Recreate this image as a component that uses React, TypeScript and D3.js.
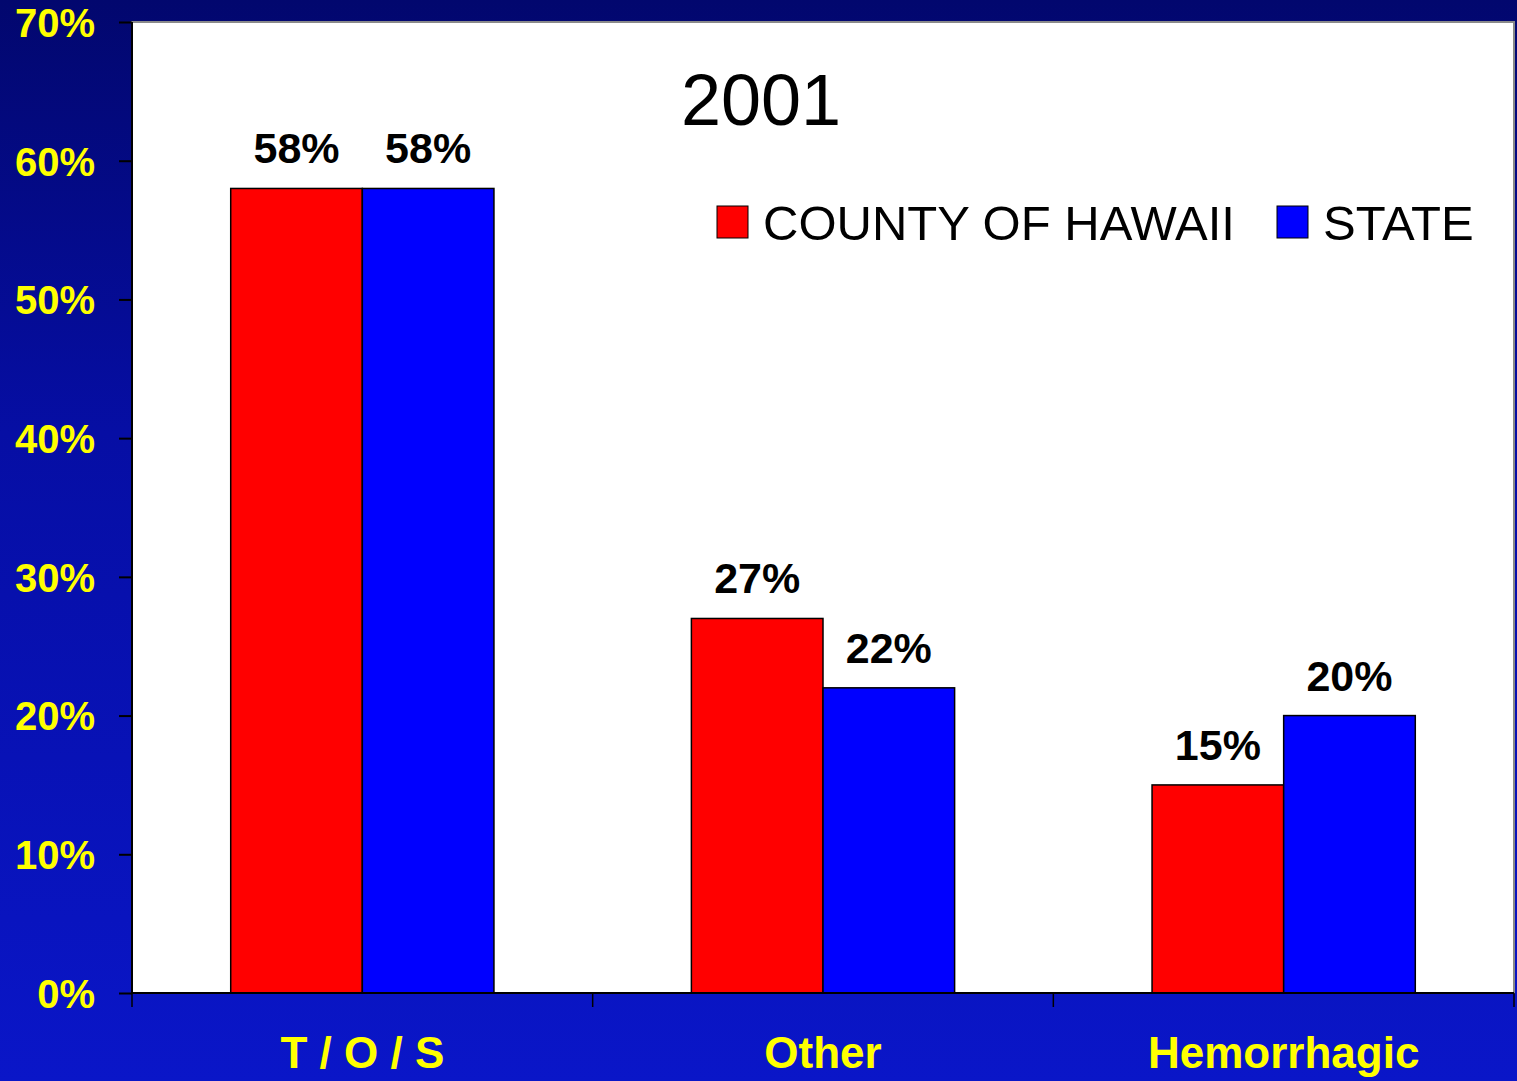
import React, { useRef, useEffect } from 'react';
import * as d3 from 'd3';

// chart data
const categories: string[] = ['T / O / S', 'Other', 'Hemorrhagic'];
const seriesNames: string[] = ['COUNTY OF HAWAII', 'STATE'];
const countyValues: number[] = [58, 27, 15];
const stateValues: number[] = [58, 22, 20];
const yTicks: number[] = [0, 10, 20, 30, 40, 50, 60, 70];
const chartTitle = '2001';

const seriesColors: string[] = ['#ff0000', '#0000ff'];

const App = () => {
  const svgRef = useRef<SVGSVGElement | null>(null);
  const width = 1517;
  const height = 1081;

  useEffect(() => {
    const svg = d3.select(svgRef.current);
    svg.selectAll('*').remove();

    const margin = { top: 22, right: 3, bottom: 88, left: 132 };
    const innerWidth = width - margin.left - margin.right;
    const innerHeight = height - margin.top - margin.bottom;

    // background gradient
    const defs = svg.append('defs');
    const grad = defs
      .append('linearGradient')
      .attr('id', 'bg')
      .attr('x1', 0)
      .attr('y1', 0)
      .attr('x2', 0)
      .attr('y2', 1);
    grad.append('stop').attr('offset', '0%').attr('stop-color', '#02076e');
    grad.append('stop').attr('offset', '40%').attr('stop-color', '#060ea4');
    grad.append('stop').attr('offset', '100%').attr('stop-color', '#0a16c8');

    svg
      .append('rect')
      .attr('width', width)
      .attr('height', height)
      .attr('fill', 'url(#bg)');

    const chart = svg
      .append('g')
      .attr('transform', `translate(${margin.left},${margin.top})`);

    // scales
    const x0 = d3.scaleBand<string>().domain(categories).range([0, innerWidth]);
    const x1 = d3
      .scaleBand<string>()
      .domain(seriesNames)
      .range([0, x0.bandwidth()])
      .paddingInner(0)
      .paddingOuter(0.75);
    const y = d3.scaleLinear().domain([0, 70]).range([innerHeight, 0]);

    // plot area
    chart
      .append('rect')
      .attr('width', innerWidth)
      .attr('height', innerHeight)
      .attr('fill', '#ffffff')
      .attr('stroke', '#8a8a8a')
      .attr('stroke-width', 2);

    const rows = categories.map((c, i) => ({
      category: c,
      values: [countyValues[i], stateValues[i]],
    }));

    // bars
    const groups = chart
      .selectAll('.group')
      .data(rows)
      .enter()
      .append('g')
      .attr('transform', d => `translate(${x0(d.category)},0)`);

    groups
      .selectAll('rect')
      .data(d => d.values.map((v, i) => ({ name: seriesNames[i], value: v, idx: i })))
      .enter()
      .append('rect')
      .attr('x', d => x1(d.name) as number)
      .attr('y', d => y(d.value))
      .attr('width', x1.bandwidth())
      .attr('height', d => innerHeight - y(d.value))
      .attr('fill', d => seriesColors[d.idx])
      .attr('stroke', '#000')
      .attr('stroke-width', 1.5);

    // value labels
    groups
      .selectAll('.val')
      .data(d => d.values.map((v, i) => ({ name: seriesNames[i], value: v })))
      .enter()
      .append('text')
      .attr('x', d => (x1(d.name) as number) + x1.bandwidth() / 2)
      .attr('y', d => y(d.value) - 25)
      .attr('text-anchor', 'middle')
      .attr('font-family', 'Liberation Sans, Arial, sans-serif')
      .attr('font-weight', 'bold')
      .attr('font-size', '43px')
      .attr('fill', '#000')
      .text(d => `${d.value}%`);

    // y axis
    const yAxis = chart
      .append('g')
      .call(
        d3
          .axisLeft(y)
          .tickValues(yTicks)
          .tickSize(13)
          .tickPadding(24)
          .tickFormat(d => `${d}%`)
      );
    yAxis.select('.domain').attr('stroke', '#000').attr('stroke-width', 2).attr('d', `M0,0V${innerHeight}`);
    yAxis.selectAll('.tick line').attr('stroke', '#000').attr('stroke-width', 2);
    yAxis
      .selectAll('.tick text')
      .attr('fill', '#ffff00')
      .attr('font-family', 'Liberation Sans, Arial, sans-serif')
      .attr('font-weight', 'bold')
      .attr('font-size', '40px')
      .attr('dy', '0.36em');

    // x axis
    const xAxis = chart
      .append('g')
      .attr('transform', `translate(0,${innerHeight})`)
      .call(d3.axisBottom(x0).tickSize(0).tickPadding(62));
    xAxis.select('.domain').attr('stroke', '#000').attr('stroke-width', 2).attr('d', `M0,0H${innerWidth}`);
    xAxis
      .selectAll('.tick text')
      .attr('fill', '#ffff00')
      .attr('font-family', 'Liberation Sans, Arial, sans-serif')
      .attr('font-weight', 'bold')
      .attr('font-size', '44px')
      .attr('dy', '0.3em');

    // category boundary ticks
    const bounds = categories.map(c => x0(c) as number).concat([innerWidth]);
    chart
      .selectAll('.xtick')
      .data(bounds)
      .enter()
      .append('line')
      .attr('x1', d => d)
      .attr('x2', d => d)
      .attr('y1', innerHeight)
      .attr('y2', innerHeight + 14)
      .attr('stroke', '#000')
      .attr('stroke-width', 1.5);

    // title
    svg
      .append('text')
      .attr('x', 761)
      .attr('y', 125)
      .attr('text-anchor', 'middle')
      .attr('font-family', 'Liberation Sans, Arial, sans-serif')
      .attr('font-size', '72px')
      .attr('fill', '#000')
      .text(chartTitle);

    // legend
    const legendX = [717, 1277];
    const legend = svg
      .selectAll('.legend')
      .data(seriesNames)
      .enter()
      .append('g')
      .attr('transform', (d, i) => `translate(${legendX[i]},206)`);

    legend
      .append('rect')
      .attr('width', 31)
      .attr('height', 32)
      .attr('fill', (d, i) => seriesColors[i])
      .attr('stroke', '#000')
      .attr('stroke-width', 1);

    legend
      .append('text')
      .attr('x', 46)
      .attr('y', 34)
      .attr('font-family', 'Liberation Sans, Arial, sans-serif')
      .attr('font-size', '49px')
      .attr('fill', '#000')
      .text(d => d);
  }, []);

  return (
    <svg
      ref={svgRef}
      width={width}
      height={height}
      style={{ position: 'absolute', left: 0, top: 0 }}
    ></svg>
  );
};

export default App;
